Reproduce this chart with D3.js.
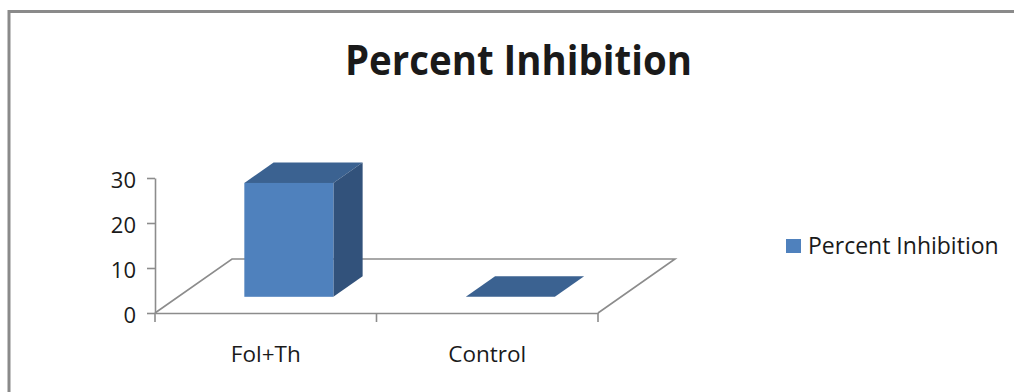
<!DOCTYPE html>
<html>
<head>
<meta charset="utf-8">
<script src="https://cdn.jsdelivr.net/npm/d3@7"></script>
<style>
  html, body { margin: 0; padding: 0; background: #ffffff; overflow: hidden; }
  svg { display: block; }
  text { font-family: "Open Sans", "Noto Sans", sans-serif; fill: #1a1a1a; }
</style>
</head>
<body>
<svg id="chart" width="1014" height="392"></svg>
<script>
// Chart data
const categories = ["Fol+Th", "Control"];
const values = [25.3, 0];
const yTicks = [0, 10, 20, 30];
const seriesName = "Percent Inhibition";
const chartTitle = "Percent Inhibition";

const svg = d3.select("#chart");

// Chart area frame (only its top and left edges fall inside the view)
svg.append("rect")
  .attr("x", 9).attr("y", 11.5)
  .attr("width", 2000).attr("height", 2000)
  .attr("fill", "none")
  .attr("stroke", "#8a8a8a")
  .attr("stroke-width", 3);

// Title
svg.append("text")
  .attr("x", 518.5).attr("y", 75)
  .attr("text-anchor", "middle")
  .attr("textLength", 347)
  .attr("lengthAdjust", "spacingAndGlyphs")
  .style("font-weight", "700")
  .style("font-size", "41px")
  .text(chartTitle);

// Oblique 3D layout: front plane plus a depth offset
const plot = { left: 155, right: 598, base: 313 };
const depth = { dx: 77, dy: -54 };        // full floor depth
const barDepth = [0.30, 0.68];            // bar front/back as fraction of floor depth

const x = d3.scaleBand()
  .domain(categories)
  .range([plot.left, plot.right])
  .paddingInner(0.598)
  .paddingOuter(0.299);

const y = d3.scaleLinear()
  .domain([0, 30])
  .range([plot.base, 178]);

const off = f => [depth.dx * f, depth.dy * f];

// Floor outline
const axisColor = "#8c8c8c";
const floorPts = [
  [plot.left, plot.base],
  [plot.left + depth.dx, plot.base + depth.dy],
  [plot.right + depth.dx, plot.base + depth.dy],
  [plot.right, plot.base]
];
svg.append("path")
  .attr("d", d3.line()(floorPts))
  .attr("fill", "none")
  .attr("stroke", axisColor)
  .attr("stroke-width", 1.6);

// Value axis
const yAxis = svg.append("g")
  .attr("transform", `translate(${plot.left},0)`)
  .call(d3.axisLeft(y).tickValues(yTicks).tickSize(8).tickPadding(11).tickSizeOuter(0));
yAxis.select(".domain").attr("stroke", axisColor).attr("stroke-width", 1.6);
yAxis.selectAll(".tick line").attr("stroke", axisColor).attr("stroke-width", 1.6);
yAxis.selectAll(".tick text")
  .style("font-size", "22px")
  .style("font-family", "'Open Sans', sans-serif")
  .attr("fill", "#1a1a1a")
  .attr("dy", "0.45em");

// Category axis on the front edge of the floor
const xAxis = svg.append("g")
  .attr("transform", `translate(0,${plot.base})`)
  .call(d3.axisBottom(x).tickSize(0).tickPadding(33));
xAxis.select(".domain").attr("stroke", axisColor).attr("stroke-width", 1.6);
xAxis.selectAll(".tick text")
  .style("font-size", "22.5px")
  .style("font-family", "'Open Sans', sans-serif")
  .attr("fill", "#1a1a1a");
// Category boundary ticks
const step = x.step();
const bounds = d3.range(categories.length + 1).map(i => plot.left + i * step);
svg.append("g").selectAll("line")
  .data(bounds)
  .join("line")
  .attr("x1", d => d).attr("x2", d => d)
  .attr("y1", plot.base).attr("y2", plot.base + 9)
  .attr("stroke", axisColor)
  .attr("stroke-width", 1.6);

// 3D columns
const colors = { front: "#4f81bd", top: "#3b6291", side: "#32527b" };
const bars = svg.append("g");
categories.forEach((c, i) => {
  const v = values[i];
  const [fx, fy] = off(barDepth[0]);
  const [bx, by] = off(barDepth[1]);
  const x0 = x(c) + fx, x1 = x(c) + x.bandwidth() + fx;
  const yb = y(0) + fy, yt = y(v) + fy;
  const ddx = bx - fx, ddy = by - fy;
  const g = bars.append("g");
  // top face
  g.append("path")
    .attr("d", d3.line()([[x0, yt], [x0 + ddx, yt + ddy], [x1 + ddx, yt + ddy], [x1, yt]]) + "Z")
    .attr("fill", colors.top);
  if (v > 0) {
    // side face
    g.append("path")
      .attr("d", d3.line()([[x1, yt], [x1 + ddx, yt + ddy], [x1 + ddx, yb + ddy], [x1, yb]]) + "Z")
      .attr("fill", colors.side);
    // front face
    g.append("rect")
      .attr("x", x0).attr("y", yt)
      .attr("width", x1 - x0).attr("height", yb - yt)
      .attr("fill", colors.front);
  }
});

// Legend
const legend = svg.append("g").attr("transform", "translate(786,239)");
legend.append("rect")
  .attr("width", 15).attr("height", 14)
  .attr("fill", colors.front);
legend.append("text")
  .attr("x", 22).attr("y", 15)
  .style("font-size", "23px")
  .text(seriesName);
</script>
</body>
</html>
